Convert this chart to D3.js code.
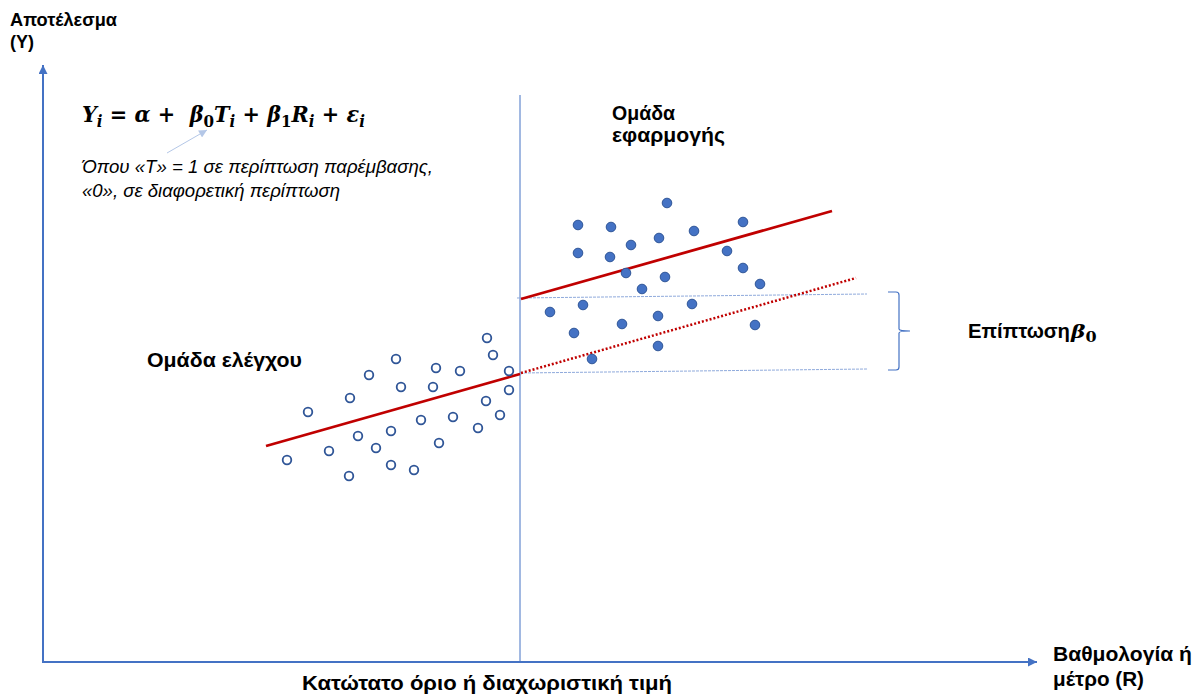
<!DOCTYPE html>
<html><head><meta charset="utf-8">
<script src="https://cdn.jsdelivr.net/npm/d3@7"></script>
<style>
html,body{margin:0;padding:0;background:#fff;}
svg{display:block;}
text{white-space:pre;}
</style></head>
<body>
<svg id="chart" width="1195" height="694"></svg>
<script>
// ---- data (x = score R, y = outcome Y, arbitrary units) ----
const cutoff = 477;
const treatedPoints = [[535,437],[568,435],[624,459],[700,440],[651,431],[588,417],[616,424],[535,409],[567,405],[684,411],[583,389],[622,385],[700,394],[599,373],[717,378],[507,350],[540,357],[649,358],[615,346],[579,338],[531,329],[712,337],[615,316],[549,303]];
const controlPoints = [[244,202],[265,250],[286,211],[306,186],[307,264],[315,226],[326,287],[333,214],[353,303],[358,275],[348,231],[348,197],[371,192],[378,242],[390,275],[393,294],[396,219],[410,245],[417,291],[435,234],[443,261],[444,324],[450,307],[457,247],[466,272],[466,291]];
const controlFit = [[223,216],[477,288]];
const treatedFit = [[478,363],[789,451]];
const counterfactualFit = [[478,289],[813,384]];
const upperRef = [[474,364],[824,368]];
const lowerRef = [[477,289],[825,293]];
const xAxisEnd = 994, yAxisEnd = 597, cutoffTop = 567;

const svg = d3.select("#chart");
const x = d3.scaleLinear().domain([0,1000]).range([43,1043]);
const y = d3.scaleLinear().domain([0,600]).range([662,62]);
const line = d3.line().x(d=>x(d[0])).y(d=>y(d[1]));

const blue = "#4472C4";
const defs = svg.append("defs");
function marker(id, color, w, h){
  defs.append("marker").attr("id",id).attr("viewBox","0 0 10 10")
    .attr("refX",10).attr("refY",5).attr("markerWidth",w).attr("markerHeight",h)
    .attr("markerUnits","userSpaceOnUse").attr("orient","auto")
    .append("path").attr("d","M0,0L10,5L0,10Z").attr("fill",color);
}
marker("arrAxis", blue, 9, 9);
marker("arrLight", "#B4C7E7", 9, 8);

// axes
svg.append("path").attr("d", line([[0,0],[xAxisEnd,0]])).attr("stroke",blue).attr("stroke-width",2).attr("fill","none").attr("marker-end","url(#arrAxis)");
svg.append("path").attr("d", line([[0,-1],[0,yAxisEnd]])).attr("stroke",blue).attr("stroke-width",2).attr("fill","none").attr("marker-end","url(#arrAxis)");

// cutoff vertical line
svg.append("path").attr("d", line([[cutoff,0],[cutoff,cutoffTop]])).attr("stroke",blue).attr("stroke-width",1).attr("fill","none");

// reference lines
[upperRef, lowerRef].forEach(r=>{
  svg.append("path").attr("d", line(r)).attr("stroke","#8FAADC").attr("stroke-width",1).attr("stroke-dasharray","3,1").attr("fill","none");
});

// fit lines
svg.append("path").attr("d", line(controlFit)).attr("stroke","#C00000").attr("stroke-width",2.75).attr("fill","none");
svg.append("path").attr("d", line(treatedFit)).attr("stroke","#C00000").attr("stroke-width",2.75).attr("fill","none");
svg.append("path").attr("d", line(counterfactualFit)).attr("stroke","#C00000").attr("stroke-width",2.5).attr("stroke-dasharray","2,2").attr("fill","none");

// points
svg.append("g").selectAll("circle").data(controlPoints).join("circle")
  .attr("cx",d=>x(d[0])).attr("cy",d=>y(d[1])).attr("r",4.3)
  .attr("fill","#fff").attr("stroke","#2F5597").attr("stroke-width",1.8);
svg.append("g").selectAll("circle").data(treatedPoints).join("circle")
  .attr("cx",d=>x(d[0])).attr("cy",d=>y(d[1])).attr("r",4.8)
  .attr("fill",blue).attr("stroke","#2F5597").attr("stroke-width",1);

// brace
const bx = 888, bTop = y(upperRef[1][1]+2), bBot = y(lowerRef[1][1]-1), bMid = (bTop+bBot)/2;
svg.append("path").attr("d",
  `M${bx},${bTop} L${bx+8},${bTop} Q${bx+11},${bTop} ${bx+11},${bTop+3} L${bx+11},${bMid-2} Q${bx+11},${bMid} ${bx+22},${bMid} Q${bx+11},${bMid} ${bx+11},${bMid+2} L${bx+11},${bBot-3} Q${bx+11},${bBot} ${bx+8},${bBot} L${bx},${bBot}`)
  .attr("fill","none").attr("stroke",blue).attr("stroke-width",1.2);

// small annotation arrow
svg.append("line").attr("x1",167).attr("y1",153).attr("x2",207).attr("y2",130)
  .attr("stroke","#B4C7E7").attr("stroke-width",1).attr("marker-end","url(#arrLight)");

// texts
const sans = "'Liberation Sans', Arial, sans-serif";
function label(txt, xx, yy, size, len, opts={}){
  const t = svg.append("text").attr("x",xx).attr("y",yy).text(txt)
    .attr("font-family",sans).attr("font-size",size)
    .attr("font-weight",opts.weight||"bold").attr("font-style",opts.style||"normal")
    .attr("fill","#000");
  if(len){ t.attr("textLength",len).attr("lengthAdjust","spacingAndGlyphs"); }
  return t;
}
label("Αποτέλεσμα", 10, 26, 18, 107);
label("(Y)", 10, 48, 18, null);
label("Βαθμολογία ή", 1053, 661, 20, 139);
label("μέτρο (R)", 1053, 686, 20, 91);
label("Κατώτατο όριο ή διαχωριστική τιμή", 302, 690, 21, 370);
label("Ομάδα", 612, 120, 20.5, 63);
label("εφαρμογής", 612, 142, 20.5, 113);
label("Ομάδα ελέγχου", 147, 367, 20.5, 155);
label("Όπου «Τ» = 1 σε περίπτωση παρέμβασης,", 82, 173, 18, 351, {weight:"normal", style:"italic"});
label("«0», σε διαφορετική περίπτωση", 82, 197, 18, 258, {weight:"normal", style:"italic"});

// fit a multi-tspan text to a target width by horizontal scaling
function fitWidth(sel, x0, target){
  const w = sel.node().getBBox().width;
  sel.attr("transform", `translate(${x0},0) scale(${target/w},1) translate(${-x0},0)`);
}

// formula
const serif = "'DejaVu Serif', 'Liberation Serif', serif";
const f = svg.append("text").attr("x",82).attr("y",122).attr("font-family",serif)
  .attr("font-size",22).attr("font-weight","bold").attr("fill","#000");
const parts = [
  ["Y","italic",0],["i","italic",1],[" = ","normal",-1],["α","italic",0],[" +  ","normal",0],
  ["β","italic",0],["0","normal",1],["T","italic",-1],["i","italic",1],[" + ","normal",-1],
  ["β","italic",0],["1","normal",1],["R","italic",-1],["i","italic",1],[" + ","normal",-1],
  ["ε","italic",0],["i","italic",1]
];
parts.forEach(p=>{
  const t = f.append("tspan").text(p[0]).attr("font-style",p[1]);
  if(p[2]===1){ t.attr("dy",5).attr("font-size",16); }
  else if(p[2]===-1){ t.attr("dy",-5); }
});
fitWidth(f, 82, 283);

// impact label
label("Επίπτωση", 968, 338, 20, 102);
const imp = svg.append("text").attr("x",1071).attr("y",338).attr("font-family",serif)
  .attr("font-size",19).attr("font-weight","bold").attr("fill","#000");
imp.append("tspan").text("β").attr("font-style","italic");
imp.append("tspan").text("0").attr("font-size",14).attr("dy",4);
fitWidth(imp, 1071, 27);
</script>
</body></html>
